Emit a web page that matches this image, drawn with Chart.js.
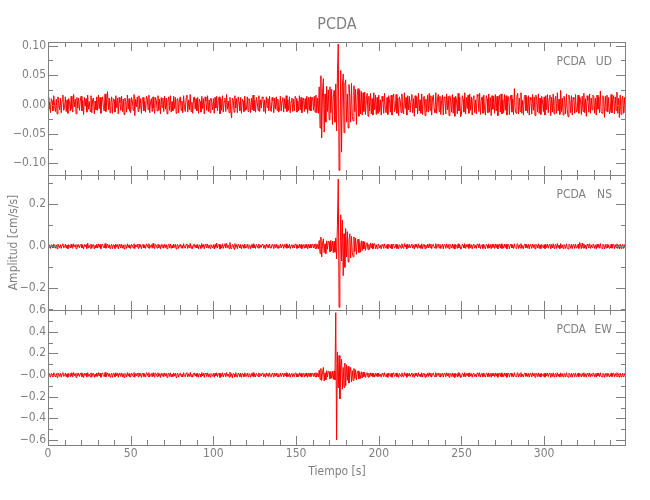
<!DOCTYPE html>
<html>
<head>
<meta charset="utf-8">
<title>PCDA</title>
<script src="https://cdn.jsdelivr.net/npm/chart.js@4.4.1/dist/chart.umd.min.js"></script>
<style>
  html, body { margin: 0; padding: 0; background: #fff; }
  #wrap { position: relative; width: 650px; height: 500px; }
  #wrap canvas { position: absolute; left: 0; top: 0; }
</style>
</head>
<body>
<div id="wrap">
  <canvas id="udChart" width="650" height="500"></canvas>
  <canvas id="nsChart" width="650" height="500"></canvas>
  <canvas id="ewChart" width="650" height="500"></canvas>
</div>
<script>
const station = 'PCDA';
const sampleStep = 0.5;    // seconds between samples
const timeMax = 349.5;
const timeTicks = [0, 50, 100, 150, 200, 250, 300];
const timeLabels = ['0', '50', '100', '150', '200', '250', '300'];

// vertical component (cm/s/s), two samples per second, one row = 10 s
const udValues = [
  .012,-.008,.004,-.014,.010,.006,-.011,.015,-.003,-.012,.009,-.016,.013,.002,-.009,.011,-.014,.007,.016,-.010,
  -.005,.013,-.012,.008,-.015,.010,.004,-.011,.014,-.007,-.013,.017,-.004,.009,-.016,.012,-.006,.011,-.010,.005,
  .014,-.011,.007,-.017,.012,-.003,.010,-.013,.016,-.008,.005,-.012,.015,-.014,.009,.011,-.016,.006,-.009,.013,
  -.010,.016,-.007,.012,-.015,.008,.013,-.005,-.011,.018,-.012,.006,.022,-.009,.011,-.014,.004,.013,-.015,.010,
  .008,-.013,.015,-.006,.011,-.016,.012,.003,-.010,.014,-.012,.009,-.017,.011,.005,-.013,.016,-.008,.010,-.011,
  -.014,.012,.006,-.010,.017,-.019,.009,-.004,.013,-.012,.015,-.007,.010,-.015,.008,.012,-.011,.005,-.013,.014,
  .011,-.009,.016,-.014,.004,.010,-.012,.013,-.006,-.015,.012,.007,-.011,.015,-.010,.009,-.016,.012,-.005,.011,
  -.012,.014,-.008,.011,-.016,.006,.013,-.010,.015,-.013,.005,-.011,.014,-.007,.012,-.015,.009,.010,-.014,.008,
  .013,-.010,.006,-.014,.015,-.005,-.012,.011,.016,-.013,.008,-.009,.017,-.012,.004,-.015,.011,.013,-.008,.010,
  -.011,.012,-.015,.009,.005,-.013,.014,-.007,.010,-.016,.013,.006,-.010,.015,-.012,.008,-.014,.011,.003,-.009,
  .010,-.015,.012,-.006,.014,-.011,.007,.013,-.016,.009,-.010,.015,-.013,.005,.011,-.012,.017,-.008,.006,-.014,
  .012,-.009,-.023,.011,.008,-.013,.015,-.006,.010,-.014,.013,.004,-.011,.012,-.015,.009,.006,-.012,.014,-.010,
  -.008,.013,-.012,.010,.005,-.014,.011,-.009,.016,-.011,.007,-.013,.012,.004,-.010,.015,-.012,.008,-.006,.013,
  .011,-.012,.008,-.015,.013,-.005,.010,-.011,.014,-.009,-.012,.012,.006,-.014,.011,-.008,.013,-.010,.009,-.013,
  -.009,.014,-.011,.006,.012,-.013,.010,-.007,.015,-.012,.008,-.010,.013,-.014,.005,.011,-.012,.009,-.011,.014,
  .010,-.013,.006,-.011,.015,-.009,.012,-.014,.007,.011,-.012,.010,-.008,.014,-.015,.012,-.010,.013,-.011,.009,
  .012,-.010,.014,-.013,.016,-.014,.011,-.015,.030,-.040,.049,-.057,.020,.044,-.047,.018,-.030,.031,-.012,.025,
  -.026,.030,-.014,.026,-.034,.012,.024,-.030,.035,-.045,.050,.103,-.112,-.060,.058,-.081,.030,.052,-.048,.035,
  .042,-.030,.018,-.040,.034,.012,-.030,.036,-.020,-.028,.032,-.012,.026,-.034,.015,.027,-.020,.024,-.016,.022,
  -.018,.020,-.012,.021,-.017,.008,.019,-.020,.014,-.011,.019,-.016,.010,-.018,.020,-.009,.016,-.017,.012,-.015,
  .016,-.012,.008,-.018,.014,.005,-.015,.019,-.009,-.014,.012,-.017,.015,.006,-.013,.016,-.018,.010,.018,-.012,
  -.008,.017,-.015,.011,-.019,.013,.007,-.014,.018,-.010,-.016,.020,-.007,.012,-.018,.015,-.009,.014,-.013,.008,
  .017,-.014,.010,-.020,.015,-.006,.013,-.016,.019,-.011,.008,-.015,.018,-.017,.012,.014,-.019,.009,-.012,.016,
  -.013,.019,-.010,.015,-.018,.011,.016,-.008,-.014,.020,-.015,.009,.017,-.012,.014,-.017,.007,.016,-.018,.013,
  .011,-.016,.018,-.009,.014,-.019,.015,.006,-.013,.017,-.015,.012,-.020,.014,.008,-.016,.019,-.011,.013,-.021,
  -.017,.015,.009,-.013,.020,-.016,.012,-.007,.016,-.015,.018,-.010,.013,-.018,.011,.015,-.014,.008,-.016,.017,
  .014,-.012,.019,-.017,.007,.013,-.015,.016,-.009,-.018,.015,.010,-.014,.018,-.013,.012,-.019,.015,-.008,.014,
  -.015,.017,-.011,.014,-.019,.009,.016,-.013,.018,-.016,.008,-.014,.017,-.010,.015,-.018,.012,.013,-.017,.011,
  .016,-.013,.009,-.017,.027,-.008,-.015,.014,.019,-.016,.011,-.012,.020,-.015,.007,-.018,.014,.016,-.011,.013,
  -.014,.015,-.018,.012,.008,-.016,.017,-.010,.013,-.019,.016,.009,-.013,.018,-.015,.011,-.017,.014,.006,-.012,
  .013,-.018,.015,-.009,.017,-.014,.010,.016,-.019,.012,-.013,.018,-.016,.008,.014,-.015,.020,-.011,.009,-.017,
  .024,-.012,.011,-.018,.014,.007,-.016,.018,-.009,-.021,.016,.007,-.014,.015,-.018,.012,.009,-.015,.017,-.013,
  -.011,.016,-.015,.013,.008,-.017,.014,-.012,.019,-.014,.010,-.020,.015,.007,-.013,.018,-.015,.011,-.009,.016,
  .014,-.015,.011,-.018,.016,-.008,.013,-.014,.023,-.012,-.015,.015,.009,-.022,.014,-.011,.016,-.013,.012,-.016,
  -.012,.017,-.014,.009,.015,-.016,.013,-.010,.021,-.015,.011,-.022,.016,-.017,.008,.014,-.015,.012,-.014,.017
];

// north-south component
const nsValues = [
  .009,-.006,.003,-.010,.008,.004,-.008,.011,-.002,-.009,.007,-.012,.010,.002,-.007,.008,-.010,.005,.012,-.007,
  -.004,.010,-.009,.006,-.011,.008,.003,-.008,.010,-.005,-.010,.012,-.003,.007,-.012,.009,-.004,.008,-.007,.004,
  .010,-.008,.005,-.013,.009,-.002,.008,-.010,.015,-.006,.004,-.009,.011,-.010,.007,.008,-.012,.004,-.007,.010,
  -.008,.012,-.005,.009,-.011,.006,.010,-.004,-.008,.013,-.009,.005,.010,-.007,.008,-.010,.003,.010,-.011,.007,
  .006,-.010,.011,-.004,.008,-.012,.009,.002,-.008,.010,-.009,.007,-.013,.008,.004,-.010,.012,-.006,.007,-.008,
  -.010,.009,.005,-.008,.012,-.011,.007,-.003,.010,-.009,.011,-.005,.008,-.012,.006,.009,-.008,.004,-.010,.011,
  .008,-.007,.012,-.010,.003,.008,-.009,.014,-.005,-.011,.009,.005,-.008,.011,-.007,.007,-.012,.009,-.004,.008,
  -.009,.010,-.006,.008,-.012,.005,.010,-.007,.011,-.010,.004,-.008,.010,-.005,.009,-.013,.007,.008,-.010,.006,
  .010,-.007,.005,-.010,.013,-.004,-.009,.008,.012,-.010,.006,-.007,.014,-.009,.003,-.011,.008,.010,-.006,.007,
  -.008,.009,-.012,.007,.004,-.010,.013,-.005,.008,-.012,.010,.005,-.008,.011,-.009,.006,-.010,.008,.002,-.007,
  .008,-.012,.009,-.005,.015,-.008,.006,.010,-.013,.007,-.008,.012,-.010,.004,.013,-.009,.014,-.006,.005,-.011,
  .018,-.007,-.012,.009,.006,-.014,.013,-.005,.008,-.011,.010,.003,-.008,.009,-.012,.007,.005,-.009,.011,-.008,
  -.006,.010,-.009,.008,.004,-.011,.008,-.007,.012,-.008,.005,-.010,.009,.003,-.008,.011,-.009,.006,-.005,.010,
  .008,-.009,.006,-.012,.010,-.004,.008,-.008,.011,-.007,-.009,.009,.005,-.011,.008,-.006,.010,-.008,.007,-.010,
  -.007,.011,-.008,.005,.009,-.010,.008,-.005,.012,-.009,.006,-.008,.010,-.011,.004,.008,-.009,.007,-.008,.011,
  .008,-.010,.005,-.008,.011,-.007,.009,-.011,.005,.008,-.009,.008,-.006,.010,-.012,.009,-.008,.010,-.008,.007,
  .009,-.008,.011,-.010,.012,-.011,.009,-.012,.028,-.035,.044,-.050,.015,.036,-.030,.012,-.035,.026,-.014,.024,
  .022,-.026,.028,-.022,.025,-.030,.024,-.028,.040,-.060,.100,.320,-.290,-.120,.150,-.070,.125,-.140,.060,-.100,
  .085,-.050,.070,-.075,.030,.060,-.055,.048,-.030,-.050,.045,-.025,.040,-.038,.020,.034,-.030,.018,-.028,.026,
  -.020,.024,-.012,.020,-.019,.010,.017,-.016,.009,-.014,.015,-.008,.013,-.012,.010,.013,-.011,.008,-.012,.009,
  .010,-.008,.005,-.012,.009,.003,-.010,.012,-.006,-.009,.008,-.011,.010,.004,-.008,.010,-.012,.006,.011,-.008,
  -.005,.011,-.010,.007,-.012,.008,.004,-.009,.012,-.006,-.010,.013,-.004,.008,-.012,.010,-.006,.009,-.008,.005,
  .011,-.009,.006,-.013,.010,-.004,.008,-.010,.012,-.007,.005,-.010,.012,-.011,.008,.009,-.012,.006,-.008,.010,
  -.008,.012,-.006,.010,-.011,.007,.010,-.005,-.009,.013,-.010,.006,.011,-.008,.009,-.011,.004,.010,-.012,.008,
  .007,-.010,.012,-.006,.009,-.012,.010,.004,-.008,.011,-.010,.008,-.013,.009,.005,-.010,.012,-.007,.008,-.013,
  -.011,.010,.006,-.008,.013,-.010,.008,-.004,.010,-.010,.012,-.006,.008,-.012,.007,.010,-.009,.005,-.010,.011,
  .009,-.008,.012,-.011,.004,.008,-.010,.010,-.006,-.012,.010,.006,-.009,.012,-.008,.008,-.012,.010,-.005,.009,
  -.010,.011,-.007,.009,-.012,.006,.010,-.008,.012,-.010,.005,-.009,.011,-.006,.010,-.012,.008,.008,-.011,.007,
  .010,-.008,.006,-.011,.012,-.005,-.010,.009,.012,-.010,.007,-.008,.013,-.010,.004,-.012,.009,.010,-.007,.008,
  -.009,.010,-.012,.008,.005,-.010,.011,-.006,.008,-.012,.010,.006,-.008,.012,-.010,.007,-.011,.009,.004,-.008,
  .008,-.011,.010,-.006,.011,-.009,.006,.010,-.012,.008,-.008,.012,-.010,.005,.009,-.010,.013,-.007,.006,-.011,
  .013,-.008,.007,-.011,.009,.004,-.010,.012,-.006,-.013,.010,.005,-.009,.010,-.011,.008,.006,-.010,.011,-.008,
  -.007,.010,-.010,.018,.005,-.011,.016,-.008,.012,-.009,.006,-.013,.010,.005,-.008,.012,-.010,.007,-.006,.010,
  .009,-.010,.007,-.012,.010,-.005,.009,-.009,.013,-.008,-.010,.010,.006,-.012,.009,-.007,.011,-.008,.008,-.010,
  -.008,.011,-.009,.006,.010,-.011,.008,-.006,.012,-.010,.007,-.013,.010,-.011,.005,.009,-.010,.008,-.009,.011
];

// east-west component
const ewValues = [
  .018,-.012,.006,-.020,.015,.008,-.016,.021,-.005,-.018,.013,-.022,.019,.004,-.013,.016,-.020,.010,.022,-.014,
  -.008,.019,-.017,.012,-.021,.015,.006,-.016,.020,-.010,-.019,.023,-.006,.013,-.022,.017,-.009,.016,-.014,.008,
  .020,-.016,.010,-.023,.017,-.004,.015,-.019,.022,-.012,.007,-.017,.021,-.020,.013,.016,-.022,.009,-.013,.019,
  -.014,.022,-.010,.017,-.021,.012,.018,-.007,-.016,.024,-.017,.009,.019,-.013,.015,-.020,.006,.018,-.021,.014,
  .012,-.018,.021,-.008,.016,-.022,.017,.005,-.014,.019,-.017,.013,-.023,.015,.007,-.018,.022,-.011,.014,-.016,
  -.020,.017,.009,-.014,.023,-.021,.013,-.006,.018,-.017,.020,-.010,.014,-.022,.011,.017,-.015,.007,-.019,.020,
  .015,-.013,.022,-.019,.006,.014,-.017,.020,-.009,-.021,.017,.010,-.015,.021,-.013,.013,-.022,.016,-.008,.015,
  -.017,.019,-.011,.015,-.022,.009,.018,-.013,.020,-.018,.008,-.015,.019,-.010,.016,-.023,.012,.015,-.019,.011,
  .018,-.013,.009,-.019,.022,-.007,-.017,.015,.021,-.018,.011,-.013,.024,-.016,.006,-.020,.015,.018,-.011,.013,
  -.015,.016,-.021,.012,.008,-.018,.023,-.009,.015,-.022,.018,.009,-.014,.020,-.016,.011,-.019,.015,.004,-.013,
  .015,-.021,.017,-.009,.020,-.015,.011,.018,-.023,.013,-.014,.021,-.018,.008,.016,-.017,.022,-.011,.009,-.020,
  .026,-.013,.012,-.028,.015,.007,-.019,.022,-.010,-.020,.018,.006,-.015,.017,-.021,.013,.009,-.016,.020,-.014,
  -.011,.018,-.016,.014,.007,-.020,.015,-.012,.022,-.015,.010,-.019,.016,.006,-.014,.020,-.017,.012,-.009,.018,
  .015,-.017,.011,-.021,.018,-.008,.014,-.015,.020,-.013,-.017,.016,.009,-.020,.015,-.011,.018,-.014,.013,-.018,
  -.013,.019,-.015,.010,.017,-.018,.014,-.010,.021,-.016,.011,-.014,.018,-.020,.008,.015,-.017,.012,-.015,.019,
  .014,-.018,.009,-.015,.020,-.012,.016,-.019,.010,.015,-.017,.014,-.011,.019,-.021,.016,-.014,.018,-.015,.013,
  .016,-.014,.019,-.017,.022,-.020,.015,-.018,.045,-.040,.060,-.050,.025,.070,-.055,.020,-.045,.040,-.018,.036,
  .030,-.035,.032,-.030,.034,-.040,.038,-.045,.575,-.600,.210,-.120,.180,-.220,.090,.145,-.130,.070,-.115,.110,
  -.100,.095,-.050,.080,-.075,.030,.070,-.065,.040,-.050,.060,-.030,.048,-.045,.020,.038,-.036,.022,-.032,.030,
  -.028,.026,-.015,.024,-.022,.012,.021,-.020,.016,-.019,.020,-.010,.019,-.017,.012,-.019,.016,-.012,.017,-.015,
  .017,-.012,.007,-.020,.015,.006,-.016,.021,-.010,-.018,.013,-.021,.019,.005,-.014,.017,-.020,.011,.021,-.013,
  -.009,.019,-.016,.012,-.021,.014,.006,-.015,.020,-.011,-.018,.022,-.007,.013,-.021,.016,-.010,.017,-.014,.009,
  .019,-.016,.011,-.022,.017,-.006,.014,-.018,.021,-.012,.008,-.016,.020,-.019,.013,.015,-.021,.010,-.014,.018,
  -.014,.021,-.011,.017,-.020,.012,.018,-.008,-.016,.022,-.016,.010,.019,-.013,.015,-.019,.007,.017,-.020,.014,
  .012,-.017,.020,-.009,.016,-.021,.016,.006,-.014,.019,-.017,.013,-.022,.015,.008,-.018,.021,-.012,.014,-.023,
  -.019,.016,.010,-.014,.022,-.018,.013,-.007,.018,-.016,.020,-.011,.014,-.021,.012,.016,-.015,.008,-.018,.019,
  .015,-.013,.021,-.019,.007,.014,-.016,.019,-.010,-.020,.017,.011,-.015,.020,-.014,.013,-.021,.016,-.009,.015,
  -.016,.019,-.012,.015,-.021,.010,.018,-.014,.020,-.017,.009,-.015,.019,-.011,.016,-.022,.013,.014,-.019,.012,
  .018,-.014,.010,-.019,.021,-.008,-.016,.015,.020,-.018,.012,-.013,.022,-.016,.007,-.019,.015,.018,-.012,.014,
  -.015,.016,-.020,.013,.009,-.018,.021,-.010,.015,-.021,.018,.010,-.014,.020,-.016,.012,-.019,.015,.005,-.013,
  .015,-.020,.017,-.010,.019,-.015,.011,.018,-.022,.013,-.014,.020,-.018,.009,.016,-.017,.021,-.012,.010,-.019,
  .020,-.013,.012,-.019,.015,.008,-.018,.021,-.010,-.020,.017,.007,-.015,.016,-.020,.013,.010,-.016,.019,-.014,
  -.012,.018,-.016,.014,.008,-.019,.015,-.012,.021,-.015,.011,-.020,.016,.007,-.014,.019,-.017,.012,-.010,.018,
  .016,-.017,.012,-.020,.018,-.009,.014,-.015,.020,-.013,-.017,.016,.010,-.021,.015,-.012,.018,-.014,.013,-.018,
  -.013,.019,-.015,.011,.017,-.018,.014,-.011,.021,-.016,.012,-.022,.017,-.018,.009,.015,-.017,.013,-.015,.019
];

const udTicks = [-0.10, -0.05, 0, 0.05, 0.10];
const udTickLabels = ['\u22120.10', '\u22120.05', '0.00', '0.05', '0.10'];
const nsTicks = [-0.2, 0, 0.2];
const nsTickLabels = ['\u22120.2', '0.0', '0.2'];
const ewTicks = [-0.6, -0.4, -0.2, 0, 0.2, 0.4, 0.6];
const ewTickLabels = ['\u22120.6', '\u22120.4', '\u22120.2', '\u22120.0', '0.2', '0.4', '0.6'];

const gray = '#808080';
const narrow = "'Liberation Sans Narrow', 'DejaVu Sans Condensed', Roboto, sans-serif";

// frame, inward tick marks, value labels and the station/component tag of each panel
const seisFrame = {
  id: 'seisFrame',
  afterDatasetsDraw(chart, args, opts) {
    const { ctx, chartArea: a, scales: { x, y } } = chart;
    ctx.save();
    ctx.strokeStyle = gray;
    ctx.lineWidth = 1;
    ctx.beginPath();
    for (let k = 0; k * 10 <= x.max; k++) {
      const px = Math.round(x.getPixelForValue(k * 10)) + 0.5;
      const len = k % 5 === 0 ? 9 : 5;
      ctx.moveTo(px, a.top); ctx.lineTo(px, a.top + len);
      ctx.moveTo(px, a.bottom); ctx.lineTo(px, a.bottom - len);
    }
    const k0 = Math.ceil(y.min / opts.yMinor - 1e-6);
    const k1 = Math.floor(y.max / opts.yMinor + 1e-6);
    for (let k = k0; k <= k1; k++) {
      const py = Math.round(y.getPixelForValue(k * opts.yMinor)) + 0.5;
      const len = Math.abs(k) % 2 === 0 ? 10 : 5;
      ctx.moveTo(a.left, py); ctx.lineTo(a.left + len, py);
      ctx.moveTo(a.right, py); ctx.lineTo(a.right - len, py);
    }
    ctx.stroke();
    ctx.strokeRect(Math.round(a.left) + 0.5, Math.round(a.top) + 0.5,
                   Math.round(a.width) - 1, Math.round(a.height));

    ctx.fillStyle = gray;
    ctx.font = '12px ' + narrow;
    ctx.textAlign = 'right';
    ctx.textBaseline = 'middle';
    opts.ticks.forEach((v, i) => {
      ctx.fillText(opts.tickLabels[i], a.left - 2, y.getPixelForValue(v));
    });
    ctx.fillText(station, a.right - 40, a.top + 20);
    ctx.fillText(opts.component, a.right - 14, a.top + 20);
    ctx.restore();
  }
};

function makeChart(id, values, yMin, yMax, ticks, tickLabels, extra) {
  const points = values.map((v, i) => ({ x: i * sampleStep, y: v }));
  const config = {
    type: 'line',
    data: {
      datasets: [{
        data: points,
        borderColor: '#ff0000',
        borderWidth: 1,
        pointRadius: 0,
        tension: 0,
        fill: false
      }]
    },
    options: {
      responsive: false,
      animation: false,
      events: [],
      layout: { padding: { left: 0, right: 24, top: extra.padTop, bottom: extra.padBottom } },
      plugins: {
        legend: { display: false },
        tooltip: { enabled: false },
        title: extra.title || { display: false },
        seisFrame: { component: extra.component, yMinor: extra.yMinor, ticks: ticks, tickLabels: tickLabels }
      },
      scales: {
        x: {
          type: 'linear',
          min: 0,
          max: timeMax,
          bounds: 'data',
          display: !!extra.showTime,
          afterFit: s => { if (extra.showTime) s.height = 40; },
          afterBuildTicks: s => { s.ticks = timeTicks.map(v => ({ value: v })); },
          ticks: {
            callback: (v, i) => timeLabels[i],
            autoSkip: false,
            maxRotation: 0,
            padding: 2,
            color: gray,
            font: { family: narrow, size: 12 }
          },
          grid: { display: false, drawTicks: false },
          border: { display: false },
          title: {
            display: true,
            text: 'Tiempo [s]',
            color: gray,
            font: { family: narrow, size: 12 },
            padding: { top: 0, bottom: 6 }
          }
        },
        y: {
          min: yMin,
          max: yMax,
          bounds: 'data',
          afterFit: s => { s.width = 48; },
          ticks: { display: false },
          grid: { display: false, drawTicks: false },
          border: { display: false },
          title: extra.yTitle || { display: false }
        }
      }
    },
    plugins: [seisFrame]
  };
  return new Chart(document.getElementById(id), config);
}

const udChart = makeChart('udChart', udValues, -0.1199, 0.1063, udTicks, udTickLabels, {
  component: 'UD', yMinor: 0.025, padTop: 0, padBottom: 325,
  title: {
    display: true,
    text: station,
    fullSize: false,
    color: gray,
    font: { family: narrow, size: 16, weight: 'normal' },
    padding: { top: 15, bottom: 7.8 }
  }
});

const nsChart = makeChart('nsChart', nsValues, -0.303, 0.3395, nsTicks, nsTickLabels, {
  component: 'NS', yMinor: 0.1, padTop: 175, padBottom: 190,
  yTitle: {
    display: true,
    text: 'Amplitud [cm/s/s]',
    color: gray,
    font: { family: narrow, size: 12 },
    padding: { top: 7, bottom: 0 }
  }
});

const ewChart = makeChart('ewChart', ewValues, -0.646, 0.6, ewTicks, ewTickLabels, {
  component: 'EW', yMinor: 0.1, padTop: 310, padBottom: 15, showTime: true
});
</script>
</body>
</html>
